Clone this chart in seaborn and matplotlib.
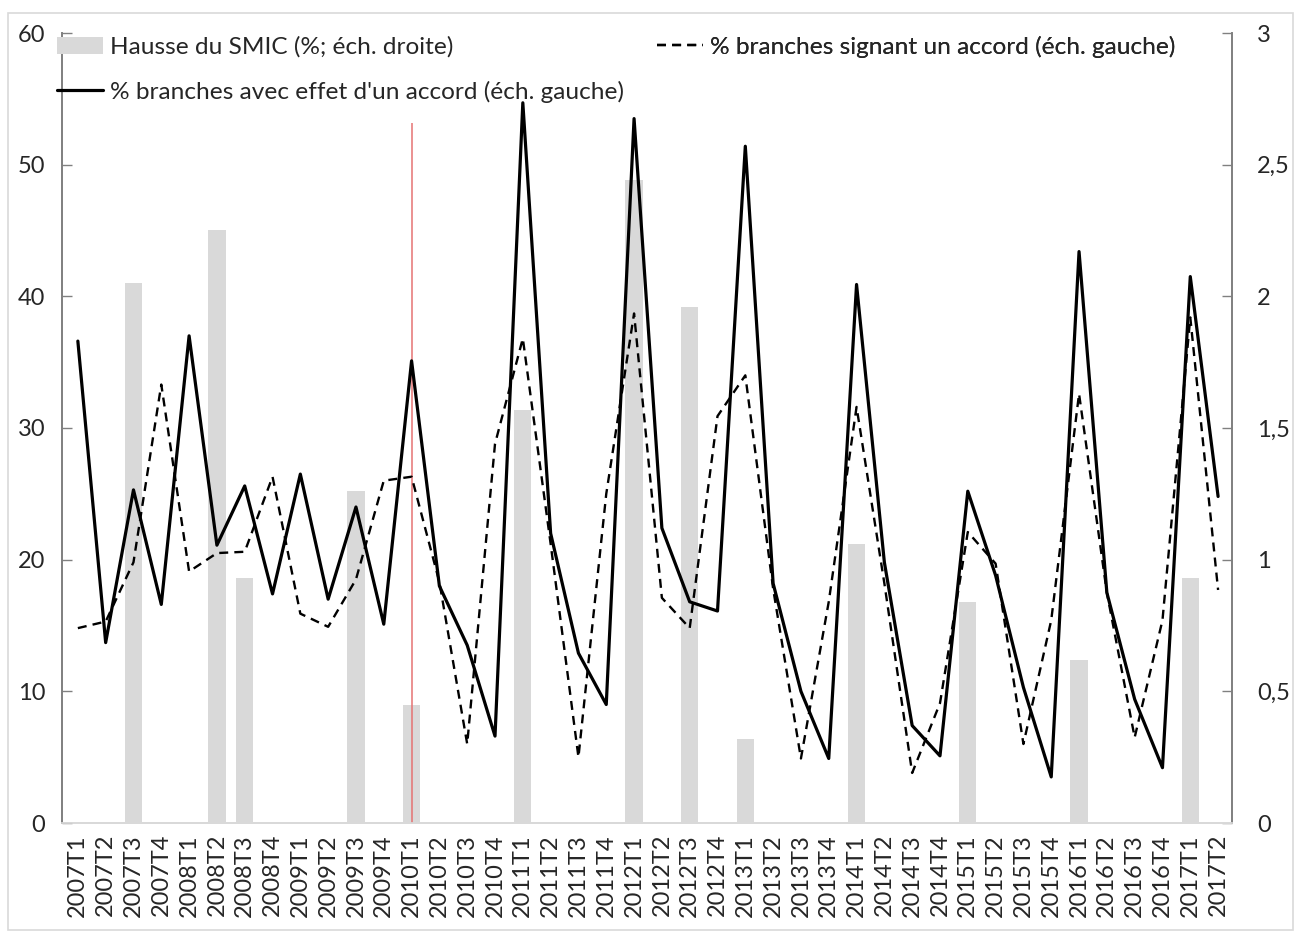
import numpy as np
import pandas as pd
import matplotlib
matplotlib.use("Agg")
import matplotlib.pyplot as plt
import seaborn as sns
from matplotlib.lines import Line2D
from matplotlib.patches import Patch, Rectangle

# ---------------- data ----------------
quarters = [f"{y}T{q}" for y in range(2007, 2018) for q in range(1, 5)][:42]

effet_accord = [36.6, 13.7, 25.3, 16.6, 37.0, 21.1, 25.6, 17.4, 26.5, 17.0,
                24.0, 15.1, 35.1, 18.0, 13.5, 6.6, 54.7, 22.0, 12.9, 9.0,
                53.5, 22.4, 16.8, 16.1, 51.4, 18.2, 10.0, 4.9, 40.9, 19.8,
                7.4, 5.1, 25.2, 18.8, 10.3, 3.5, 43.4, 17.5, 9.4, 4.2,
                41.5, 24.8]

signant_accord = [14.8, 15.3, 19.8, 33.3, 19.1, 20.5, 20.6, 26.3, 15.9, 14.9,
                  18.5, 26.0, 26.3, 18.3, 6.0, 28.8, 36.8, 21.2, 5.0, 25.0,
                  38.7, 17.1, 14.8, 30.9, 34.0, 17.8, 4.9, 16.8, 31.6, 18.2,
                  3.8, 9.1, 22.1, 19.7, 6.0, 15.4, 32.6, 17.5, 6.5, 15.4,
                  38.4, 17.7]

hausse_smic = [0, 0, 2.05, 0, 0, 2.25, 0.93, 0, 0, 0,
               1.26, 0, 0.45, 0, 0, 0, 1.57, 0, 0, 0,
               2.44, 0, 1.96, 0, 0.32, 0, 0, 0, 1.06, 0,
               0, 0, 0.84, 0, 0, 0, 0.62, 0, 0, 0,
               0.93, 0]

left_ticks = [0, 10, 20, 30, 40, 50, 60]
right_ticks = [0, 0.5, 1, 1.5, 2, 2.5, 3]
right_ticklabels = ["0", "0,5", "1", "1,5", "2", "2,5", "3"]

lbl_bar = "Hausse du SMIC (%; éch. droite)"
lbl_solid = "% branches avec effet d'un accord (éch. gauche)"
lbl_dash = "% branches signant un accord (éch. gauche)"

df = pd.DataFrame({
    "quarter": quarters,
    "pos": np.arange(len(quarters)),
    "effet": effet_accord,
    "signant": signant_accord,
    "smic": hausse_smic,
})

# ---------------- style ----------------
sns.set_theme(style="white")
plt.rcParams["font.family"] = ["Lato", "DejaVu Sans"]
text_col = "#262626"
W, H = 1306, 938

fig = plt.figure(figsize=(W / 100, H / 100), dpi=100)
ax = fig.add_axes([62 / W, 1 - 823 / H, (1232 - 62) / W, (823 - 33) / H])
axr = ax.twinx()

dash_style = (0, (3.8, 2.6))

# bars on the right scale, drawn behind the lines
sns.barplot(data=df, x="pos", y="smic", ax=axr, color="#d9d9d9",
            saturation=1, width=0.62, native_scale=True, edgecolor="none")

# lines on the left scale
sns.lineplot(data=df, x="pos", y="signant", ax=ax, color="black",
             linewidth=1.7, linestyle=dash_style)
sns.lineplot(data=df, x="pos", y="effet", ax=ax, color="black", linewidth=2.3)

# red vertical line at 2010T1
idx_2010 = quarters.index("2010T1")
ax.vlines(idx_2010, 0, 53.2, color="#e57373", linewidth=1.1, zorder=1)

ax.set_zorder(axr.get_zorder() + 1)
ax.patch.set_visible(False)

ax.set_xlim(-0.57, len(quarters) - 1 + 0.5)
ax.set_ylim(0, 60)
axr.set_ylim(0, 3)

ax.set_xticks(df["pos"])
ax.set_xticklabels(quarters, rotation=90, fontsize=17, color=text_col)
ax.set_yticks(left_ticks)
ax.set_yticklabels([str(t) for t in left_ticks], fontsize=17, color=text_col)
axr.set_yticks(right_ticks)
axr.set_yticklabels(right_ticklabels, fontsize=17, color=text_col)

for a in (ax, axr):
    a.set_xlabel("")
    a.set_ylabel("")

ax.tick_params(axis="x", length=0, pad=8)
ax.tick_params(axis="y", direction="in", length=7, width=1, color="#808080", pad=12)
axr.tick_params(axis="y", direction="in", length=7, width=1, color="#808080", pad=18)
ax.yaxis.set_ticks_position("left")
axr.yaxis.set_ticks_position("right")
for a in (ax, axr):
    a.spines["top"].set_visible(False)
    a.spines["left"].set_color("#808080")
    a.spines["right"].set_color("#808080")
    a.spines["bottom"].set_color("#d9d9d9")
    a.grid(False)

# legends (one entry each, placed like the original)
h_bar = Patch(facecolor="#d9d9d9", edgecolor="none")
h_solid = Line2D([0], [0], color="black", linewidth=2.3)
h_dash = Line2D([0], [0], color="black", linewidth=1.7, linestyle=dash_style)

fs_leg = 17.6
hl = 46 / (fs_leg * 100 / 72)
common = dict(loc="center left", frameon=False, fontsize=fs_leg, handlelength=hl,
              handletextpad=0.28, borderpad=0, borderaxespad=0,
              labelcolor=text_col, bbox_transform=fig.transFigure)

for h, lab, (px, py) in [(h_bar, lbl_bar, (57, 47)),
                         (h_solid, lbl_solid, (57, 92)),
                         (h_dash, lbl_dash, (657, 47))]:
    lg = ax.legend([h], [lab], bbox_to_anchor=(px / W, 1 - py / H), **common)
    ax.add_artist(lg)

# outer chart border
fig.patches.append(Rectangle((8 / W, 1 - 930 / H), (1293 - 8) / W, (930 - 13) / H,
                             transform=fig.transFigure, fill=False,
                             edgecolor="#d9d9d9", linewidth=1.2))

fig.savefig("out.png", dpi=100)
